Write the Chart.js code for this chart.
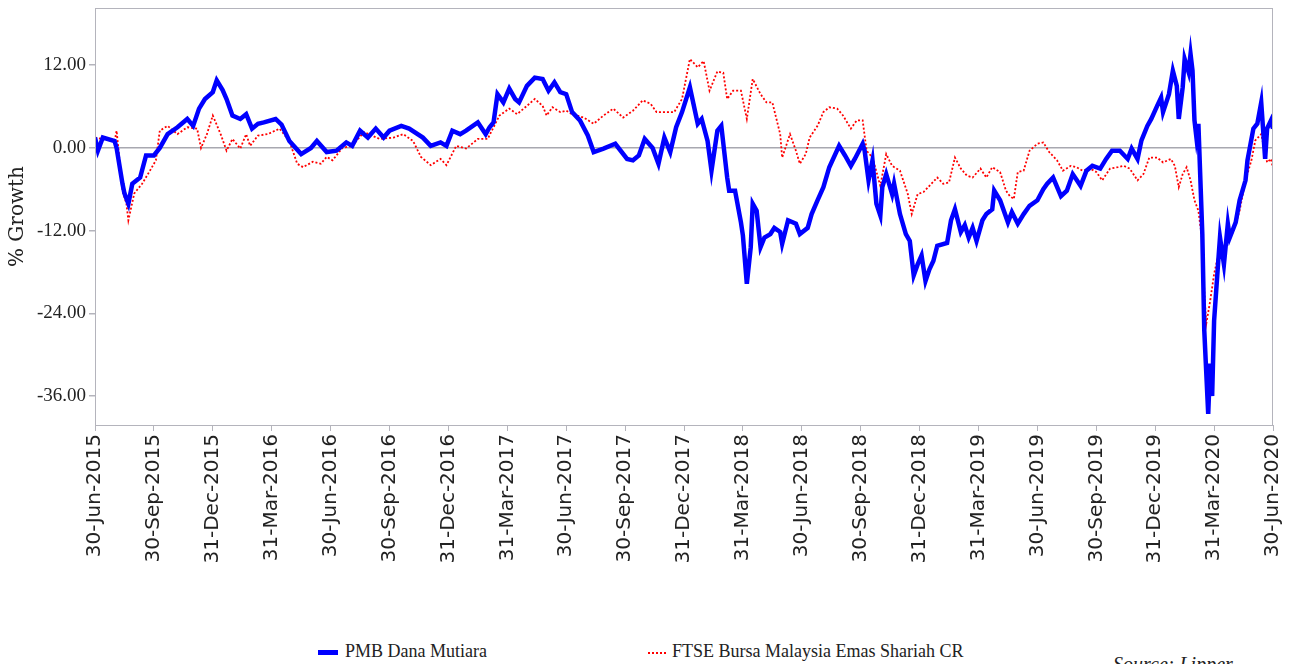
<!DOCTYPE html>
<html>
<head>
<meta charset="utf-8">
<title>PMB Dana Mutiara vs FTSE Bursa Malaysia Emas Shariah</title>
<script src="https://cdn.jsdelivr.net/npm/chart.js@4.4.1/dist/chart.umd.min.js"></script>
<style>
  html, body { margin: 0; padding: 0; background: #fff; overflow: hidden; }
  #wrap { position: relative; width: 1295px; height: 664px; }
  #myChart { position: absolute; left: 0; top: 0; }
  .leg { position: absolute; top: 640px; font: 18px "Liberation Serif", serif; color: #222; white-space: nowrap; line-height: 22px; }
  .sw { display: inline-block; vertical-align: middle; height: 0; }
  .sw.blue { width: 20px; border-top: 5px solid #0000ff; margin-right: 7px; }
  .sw.red { width: 18px; border-top: 2px dotted #ff0000; margin-right: 6px; }
  .src { position: absolute; left: 1113px; top: 653px; font: italic 20px "Liberation Serif", serif; color: #222; white-space: nowrap; }
</style>
</head>
<body>
<div id="wrap">
  <canvas id="myChart" width="1295" height="600"></canvas>
  <div class="leg" style="left:318px"><span class="sw blue"></span>PMB Dana Mutiara</div>
  <div class="leg" style="left:648px"><span class="sw red"></span>FTSE Bursa Malaysia Emas Shariah CR</div>
  <div class="src">Source: Lipper</div>
</div>
<script>
// quarter-end labels, one every 3 months from 30-Jun-2015
const xLabels = [
  "30-Jun-2015", "30-Sep-2015", "31-Dec-2015", "31-Mar-2016",
  "30-Jun-2016", "30-Sep-2016", "31-Dec-2016", "31-Mar-2017",
  "30-Jun-2017", "30-Sep-2017", "31-Dec-2017", "31-Mar-2018",
  "30-Jun-2018", "30-Sep-2018", "31-Dec-2018", "31-Mar-2019",
  "30-Jun-2019", "30-Sep-2019", "31-Dec-2019", "31-Mar-2020",
  "30-Jun-2020",
];
const yTicks = [-36, -24, -12, 0, 12];

// months since 30-Jun-2015
const fundMonths = [
  0.0, 0.15, 0.4, 1.0, 1.1, 1.4, 1.5, 1.7, 1.9, 2.3, 2.6, 3.0, 3.3, 3.7, 4.2, 4.7,
  5.0, 5.3, 5.6, 6.0, 6.2, 6.5, 6.7, 7.0, 7.4, 7.7, 8.0, 8.3, 8.6, 9.2, 9.5, 9.9,
  10.5, 11.0, 11.3, 11.8, 12.3, 12.8, 13.1, 13.5, 13.9, 14.3, 14.7, 15.0, 15.6, 16.0,
  16.7, 17.1, 17.6, 17.9, 18.2, 18.6, 18.9, 19.5, 19.9, 20.1, 20.3, 20.5, 20.8, 21.1,
  21.4, 21.6, 22.0, 22.4, 22.8, 23.1, 23.4, 23.7, 24.0, 24.3, 24.7, 25.1, 25.4, 25.9,
  26.5, 27.1, 27.4, 27.7, 28.0, 28.4, 28.7, 29.0, 29.3, 29.6, 29.9, 30.3, 30.7, 30.9,
  31.2, 31.4, 31.7, 31.9, 32.2, 32.3, 32.6, 32.9, 33.0, 33.2, 33.4, 33.5, 33.7, 33.9,
  34.1, 34.4, 34.6, 34.9, 35.0, 35.3, 35.7, 35.9, 36.3, 36.5, 36.8, 37.1, 37.4, 37.9,
  38.2, 38.5, 38.7, 39.1, 39.2, 39.4, 39.6, 39.8, 40.0, 40.1, 40.3, 40.6, 40.7, 41.0,
  41.3, 41.5, 41.7, 41.9, 42.1, 42.3, 42.5, 42.7, 42.9, 43.4, 43.6, 43.8, 44.1, 44.3,
  44.5, 44.7, 44.9, 45.2, 45.4, 45.7, 45.8, 46.1, 46.5, 46.7, 47.0, 47.3, 47.6, 48.0,
  48.3, 48.5, 48.8, 49.2, 49.5, 49.8, 50.2, 50.5, 50.8, 51.2, 51.5, 51.8, 52.2, 52.6,
  52.8, 53.1, 53.3, 53.6, 53.8, 54.1, 54.3, 54.4, 54.7, 54.9, 55.1, 55.2, 55.4, 55.5,
  55.7, 55.8, 55.9, 56.0, 56.1, 56.2, 56.4, 56.5, 56.7, 56.8, 56.9, 57.0, 57.2, 57.3,
  57.5, 57.7, 57.8, 58.1, 58.3, 58.6, 58.7, 59.0, 59.2, 59.4, 59.6, 59.7, 59.9, 60.0,
];
const fundGrowth = [
  1.5, -0.4, 1.5, 1.0, 0.0, -5.2, -6.6, -8.1, -5.2, -4.3, -1.1, -1.1, 0.0, 2.0, 3.0, 4.2,
  3.2, 5.7, 7.1, 8.1, 9.8, 8.4, 7.1, 4.7, 4.2, 4.9, 2.8, 3.5, 3.7, 4.2, 3.4, 1.0,
  -0.9, 0.0, 1.0, -0.6, -0.4, 0.8, 0.3, 2.5, 1.5, 2.8, 1.5, 2.5, 3.2, 2.8,
  1.5, 0.3, 0.8, 0.3, 2.5, 2.0, 2.5, 3.7, 2.0, 3.0, 3.7, 7.8, 6.6, 8.6,
  7.1, 6.6, 9.0, 10.2, 10.0, 8.3, 9.5, 8.1, 7.8, 5.2, 4.0, 1.8, -0.6, -0.1,
  0.6, -1.6, -1.8, -1.1, 1.3, 0.0, -2.3, 1.5, -0.6, 3.0, 5.2, 8.8, 3.5, 4.2,
  1.0, -3.3, 2.5, 3.2, -4.3, -6.2, -6.2, -10.8, -12.7, -19.7, -14.4, -8.1, -9.1, -14.4,
  -13.0, -12.5, -11.6, -12.2, -13.9, -10.5, -11.0, -12.5, -11.6, -9.6, -7.6, -5.7, -2.8, 0.3,
  -1.1, -2.6, -1.6, 0.6, -0.4, -4.7, -1.8, -8.1, -9.8, -5.7, -3.8, -6.7, -5.2, -9.6,
  -12.5, -13.5, -18.5, -16.9, -15.6, -19.3, -17.6, -16.4, -14.2, -13.8, -10.5, -8.9, -12.2, -11.2,
  -13.0, -11.6, -13.5, -10.5, -9.6, -8.9, -6.2, -7.6, -10.8, -9.3, -11.0, -9.6, -8.4, -7.6,
  -6.0, -5.2, -4.3, -7.0, -6.2, -3.8, -5.5, -3.3, -2.6, -3.0, -1.6, -0.4, -0.4, -1.6,
  -0.1, -1.6, 1.1, 3.2, 4.2, 6.1, 7.3, 5.2, 7.8, 11.2, 9.0, 4.2, 8.8, 12.9,
  11.0, 13.6, 11.2, 4.0, 1.5, 3.5, -12.5, -26.5, -38.6, -31.3, -36.0, -25.1, -16.9, -13.0,
  -16.9, -11.0, -13.0, -10.8, -7.6, -4.7, -1.8, 2.8, 3.5, 6.6, -1.6, 2.8, 4.0, 2.8,
];

const indexMonths = [
  0.0, 1.0, 1.1, 1.4, 1.6, 1.7, 2.0, 2.4, 2.8, 3.1, 3.3, 3.7, 4.2, 4.7, 5.2, 5.4,
  5.7, 6.0, 6.4, 6.7, 7.0, 7.4, 7.7, 7.9, 8.3, 8.8, 9.4, 9.9, 10.3, 10.6, 11.1, 11.5,
  11.8, 12.1, 12.6, 13.1, 13.7, 14.5, 15.2, 15.7, 16.2, 16.6, 17.1, 17.6, 17.9, 18.4,
  18.9, 19.5, 20.0, 20.3, 20.6, 21.1, 21.5, 22.0, 22.4, 22.8, 23.0, 23.3, 23.7, 24.0,
  24.3, 24.9, 25.4, 25.9, 26.4, 26.9, 27.4, 27.9, 28.3, 28.6, 29.1, 29.5, 29.9, 30.3,
  30.7, 31.0, 31.3, 31.7, 32.0, 32.2, 32.5, 32.9, 33.2, 33.5, 33.9, 34.2, 34.5, 34.9,
  35.0, 35.4, 35.7, 35.9, 36.2, 36.4, 36.8, 37.1, 37.4, 37.8, 38.1, 38.5, 38.8, 39.1,
  39.3, 39.6, 40.0, 40.3, 40.6, 41.0, 41.4, 41.6, 41.9, 42.2, 42.5, 42.9, 43.2, 43.5,
  43.8, 44.1, 44.4, 44.7, 45.1, 45.4, 45.7, 46.1, 46.4, 46.6, 46.8, 47.0, 47.3, 47.6,
  48.0, 48.3, 48.6, 49.0, 49.3, 49.7, 50.0, 50.3, 50.7, 51.0, 51.3, 51.7, 52.1, 52.4,
  52.7, 53.1, 53.4, 53.7, 54.1, 54.4, 54.8, 55.0, 55.2, 55.4, 55.6, 55.8, 56.0, 56.2,
  56.4, 56.5, 56.6, 56.8, 57.0, 57.3, 57.7, 58.0, 58.3, 58.6, 58.9, 59.1, 59.4, 59.7,
  59.9, 60.0,
];
const indexGrowth = [
  1.5, 1.0, 2.5, -6.2, -8.1, -10.5, -6.6, -5.2, -3.3, -1.8, 2.5, 3.2, 2.0, 3.0, 2.8, 0.0,
  2.0, 4.7, 2.0, -0.4, 1.3, -0.1, 2.0, 0.3, 1.8, 2.0, 2.8, 1.0, -2.3, -2.8, -2.0, -2.3,
  -1.3, -1.8, 0.0, 0.3, 2.3, 1.3, 1.5, 2.0, 1.0, -1.3, -2.5, -1.6, -2.5, 0.3,
  -0.1, 1.3, 1.3, 3.0, 4.7, 5.7, 4.9, 6.1, 7.1, 6.1, 4.7, 5.9, 5.2, 5.4,
  4.9, 4.4, 3.5, 4.7, 5.7, 4.4, 5.4, 6.9, 6.4, 5.2, 5.2, 5.2, 7.1, 12.9,
  11.7, 12.6, 8.3, 11.1, 10.9, 7.1, 8.3, 8.3, 4.2, 10.0, 7.8, 6.6, 6.6, 2.0,
  -1.4, 2.0, -0.4, -2.3, -0.9, 1.5, 3.2, 5.2, 5.9, 5.7, 4.7, 2.8, 4.0, 4.0,
  -0.4, -1.4, -5.5, -0.9, -2.6, -3.3, -6.7, -9.6, -6.7, -6.4, -5.5, -4.3, -5.2, -5.0,
  -1.4, -3.0, -4.0, -4.3, -3.0, -4.3, -2.8, -3.5, -6.2, -7.0, -7.4, -3.5, -3.3, -0.4,
  0.6, 0.8, -0.6, -1.8, -3.3, -2.6, -2.8, -3.3, -3.0, -3.5, -4.7, -3.0, -2.8, -2.6,
  -3.0, -4.7, -3.8, -1.4, -1.4, -2.1, -1.6, -2.6, -5.7, -3.8, -2.8, -4.7, -7.6, -9.1,
  -13.5, -20.7, -25.5, -22.2, -18.3, -14.4, -13.5, -12.0, -9.1, -4.7, -1.8, 1.1, 2.0, -2.1,
  -1.6, -3.0,
];

// frame round the plot area
const frame = {
  id: "frame",
  afterDraw(chart) {
    const a = chart.chartArea;
    const ctx = chart.ctx;
    ctx.save();
    ctx.strokeStyle = "#b4b4bc";
    ctx.lineWidth = 1;
    ctx.strokeRect(a.left + 0.5, a.top + 0.5, a.right - a.left - 1, a.bottom - a.top);
    ctx.restore();
  },
};

// drop the extra padding Chart.js keeps for the end labels
function noPad(s) {
  s.paddingTop = 0;
  s.paddingBottom = 0;
  s.paddingLeft = 0;
  s.paddingRight = 0;
}

const myChart = new Chart(document.getElementById("myChart"), {
  type: "line",
  data: {
    datasets: [
      {
        label: "PMB Dana Mutiara",
        data: fundMonths.map((m, i) => ({ x: m, y: fundGrowth[i] })),
        borderColor: "#0000ff",
        borderWidth: 4.5,
        pointRadius: 0,
        tension: 0,
      },
      {
        label: "FTSE Bursa Malaysia Emas Shariah CR",
        data: indexMonths.map((m, i) => ({ x: m, y: indexGrowth[i] })),
        borderColor: "#ff0000",
        borderWidth: 1.8,
        borderDash: [2, 2],
        pointRadius: 0,
        tension: 0,
      },
    ],
  },
  options: {
    responsive: false,
    animation: false,
    layout: { padding: { top: 8, right: 22, left: 0, bottom: 0 } },
    scales: {
      x: {
        type: "linear",
        min: 0,
        max: 60,
        afterBuildTicks: (s) => { s.ticks = xLabels.map((l, i) => ({ value: i * 3 })); },
        afterFit: (s) => { s.height = 175; noPad(s); },
        grid: { drawOnChartArea: false, tickColor: "#b4b4bc", tickLength: 6 },
        border: { color: "#b4b4bc" },
        ticks: {
          autoSkip: false,
          minRotation: 90,
          maxRotation: 90,
          padding: 3,
          color: "#222",
          font: { family: "DejaVu Sans", size: 20 },
          callback: (v) => xLabels[Math.round(v / 3)],
        },
      },
      y: {
        min: -40.2,
        max: 20.3,
        afterBuildTicks: (s) => { s.ticks = yTicks.map((v) => ({ value: v })); },
        afterFit: (s) => { s.width = 95; noPad(s); },
        grid: {
          color: (c) => (c.tick && c.tick.value === 0 ? "#a8a8b0" : "rgba(0,0,0,0)"),
          lineWidth: 1.5,
          tickColor: "#b4b4bc",
          tickLength: 6,
        },
        border: { color: "#b4b4bc" },
        title: {
          display: true,
          text: "% Growth",
          color: "#222",
          font: { family: "DejaVu Serif", size: 20 },
          padding: { top: 6, bottom: 0 },
        },
        ticks: {
          padding: 3,
          color: "#222",
          font: { family: "Liberation Serif", size: 19 },
          callback: (v) => v.toFixed(2),
        },
      },
    },
    plugins: {
      legend: { display: false },
      tooltip: { enabled: false },
    },
  },
  plugins: [frame],
});
</script>
</body>
</html>
